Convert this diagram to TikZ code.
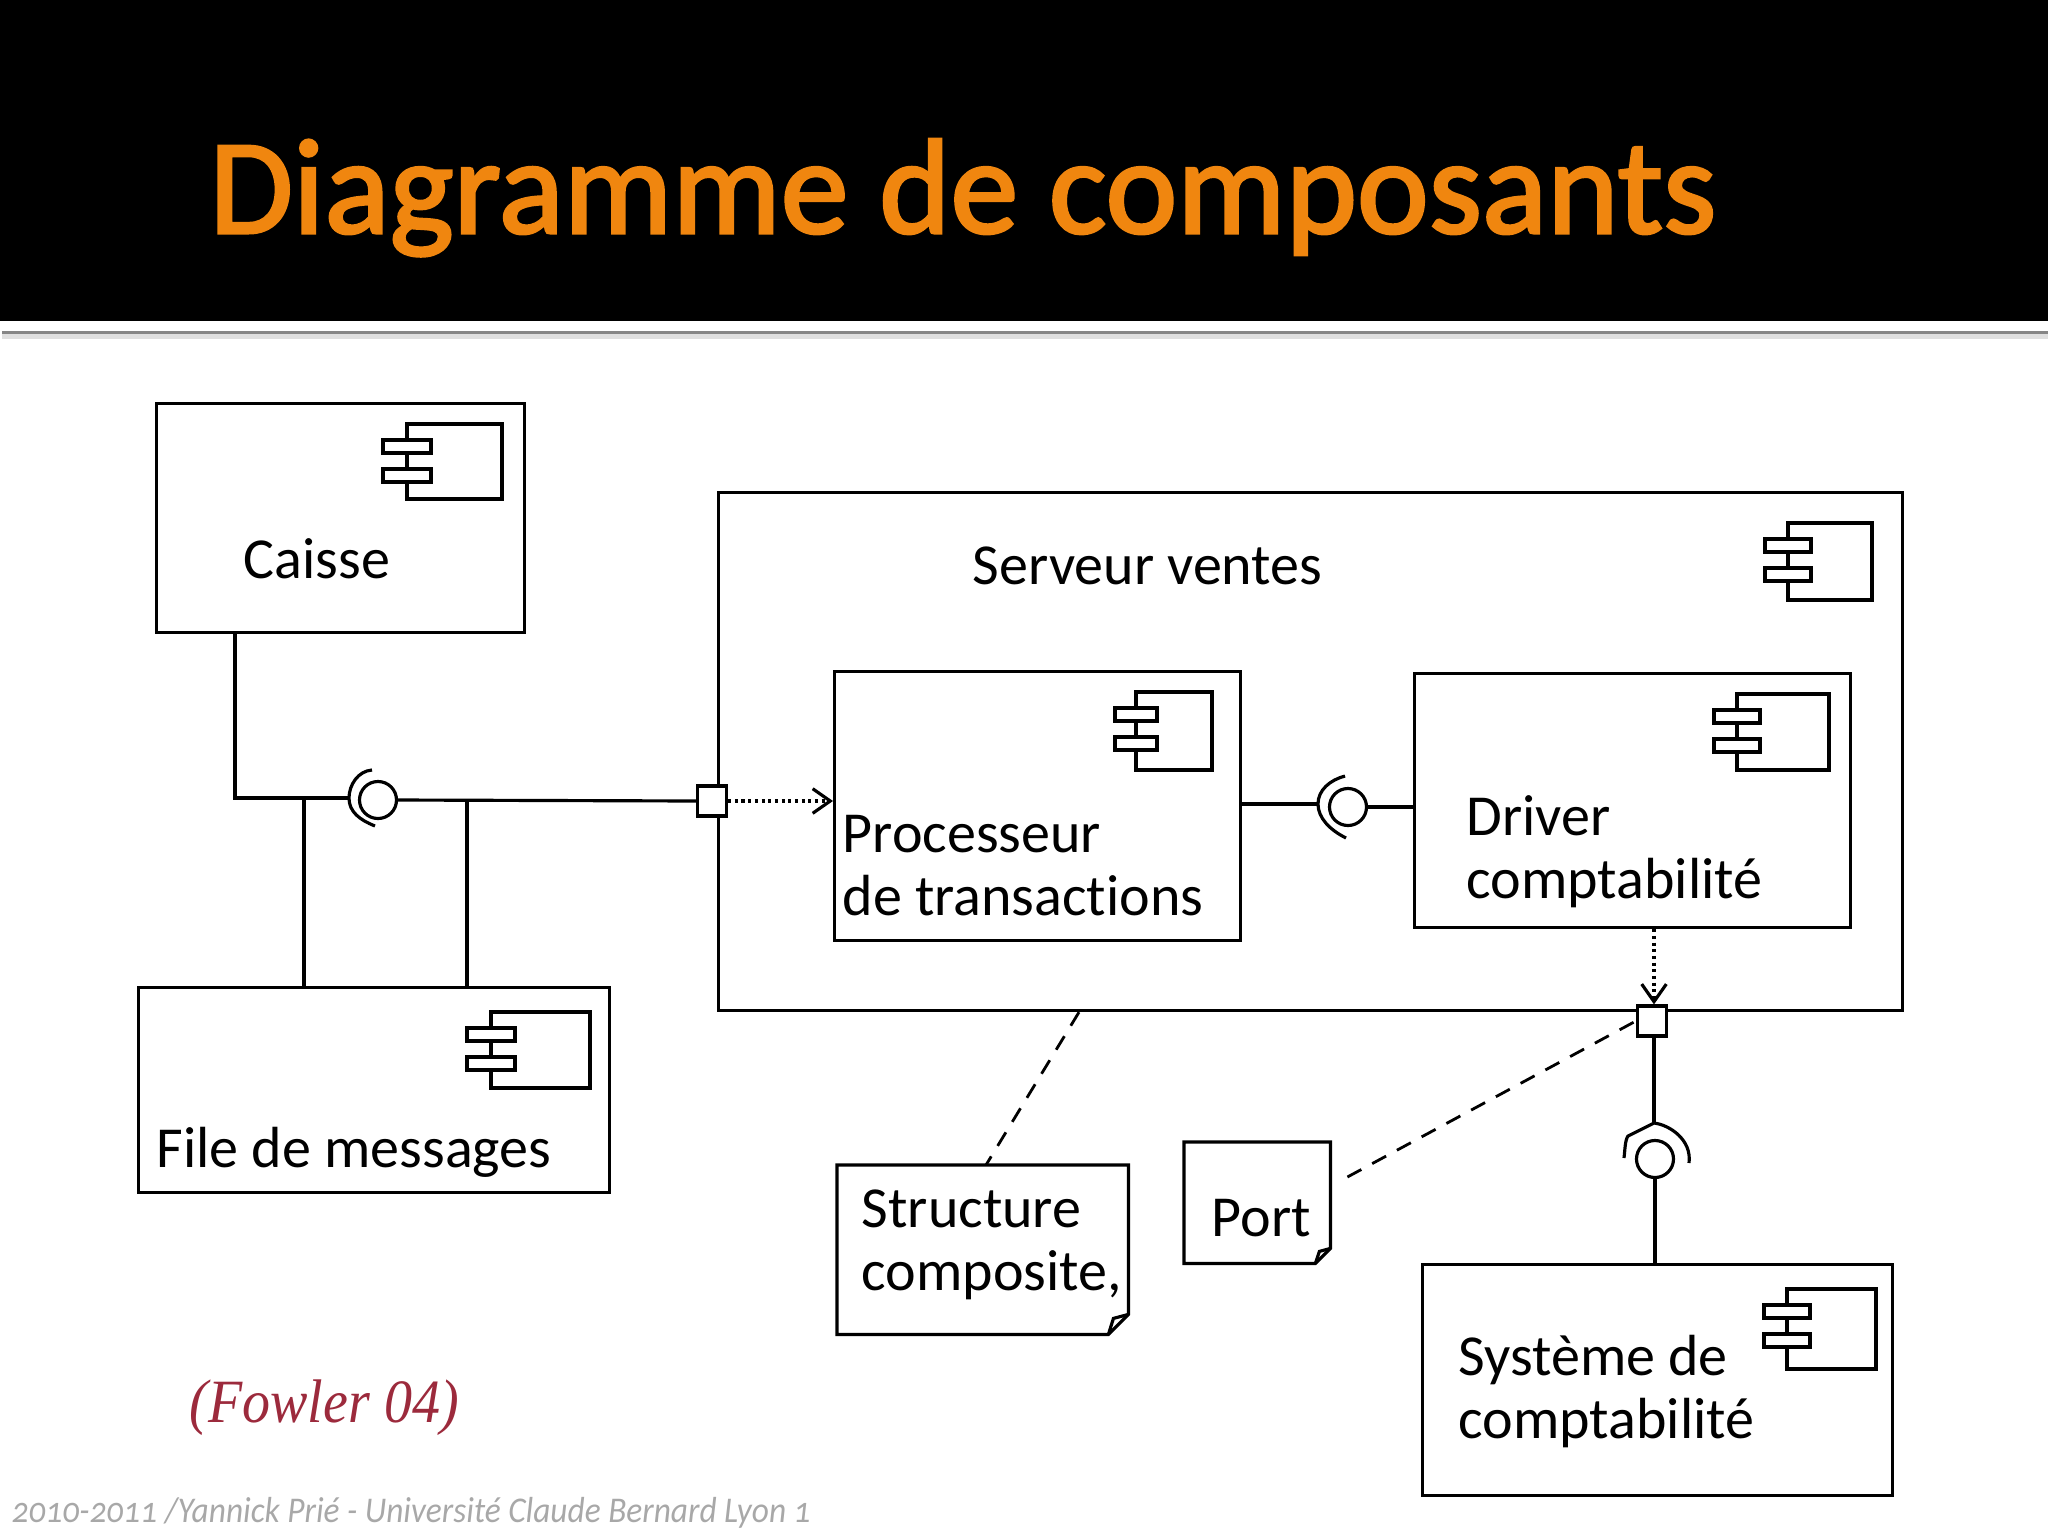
\documentclass[tikz,border=0pt]{standalone}
\usepackage{fontspec}
\setmainfont[Ligatures=CommonOff]{Carlito}
\newfontfamily\titlefont[Ligatures=CommonOff,FakeBold=2.2,LetterSpace=0.25]{Carlito}
\newfontfamily\fowlerfont{Liberation Serif}
\newfontfamily\footerfont[Numbers=OldStyle,Ligatures=CommonOff]{Carlito}
\usetikzlibrary{arrows.meta,calc}
\definecolor{titleorange}{HTML}{F0860F}
\definecolor{fowlerred}{HTML}{9C2A3C}

\begin{document}
\begin{tikzpicture}[x=0.01cm, y=-0.01cm, >={Straight Barb[length=5pt,width=7pt]}]

% styles
\tikzset{
  wire/.style={line width=0.9pt},
  dep/.style={->, line width=0.9pt, densely dotted},
  ref/.style={line width=0.8pt, dash pattern=on 4.5pt off 3.5pt},
  compbox/.style 2 args={draw, line width=0.9pt, fill=white, anchor=north west, inner sep=0pt,
    minimum width=#1*0.01cm, minimum height=#2*0.01cm},
  noteframe/.style 2 args={anchor=north west, inner sep=0pt,
    minimum width=#1*0.01cm, minimum height=#2*0.01cm},
  portbox/.style={draw, line width=0.9pt, fill=white, inner sep=0pt,
    minimum width=0.29cm, minimum height=0.30cm},
  ball/.style={draw, circle, line width=0.9pt, inner sep=0pt, minimum size=0.37cm},
  lbl/.style={anchor=base west, inner sep=0pt, align=left, font=\fontsize{16.5}{17.8}\selectfont},
}

\useasboundingbox (0,0) rectangle (2048,1536);

% title band
\fill[black] (0,0) rectangle (2048,321);
\fill[gray!25] (2,331) rectangle (2048,339);
\fill[gray!95] (2,331) rectangle (2048,334);
\node[anchor=base west, inner sep=0pt, text=titleorange, font=\fontsize{38.5}{40}\titlefont]
  (title) at (209,233) {Diagramme de composants};

% components
\node[compbox={368}{229}] (caisse) at (155,402) {};
\node[compbox={1184}{518}] (serveur) at (717,491) {};
\node[compbox={406}{269}] (processeur) at (833,670) {};
\node[compbox={436}{254}] (driver) at (1413,672) {};
\node[compbox={471}{205}] (messages) at (137,986) {};
\node[compbox={470}{231}] (systeme) at (1421,1263) {};

% component icons: tab left / body left / body right / body top / body bottom
\foreach \xa/\xb/\xc/\ya/\yb in {383/407/502/424/499, 1765/1788/1872/523/600,
    1115/1136/1212/692/770, 1714/1737/1829/694/770,
    467/491/590/1012/1088, 1764/1787/1876/1289/1369} {
  \draw[wire] (\xb,\ya) -- (\xc,\ya) -- (\xc,\yb) -- (\xb,\yb) -- cycle;
  \draw[wire, fill=white] (\xa,\ya+16) rectangle (2*\xb-\xa,\ya+29);
  \draw[wire, fill=white] (\xa,\ya+45) rectangle (2*\xb-\xa,\ya+58);
}

% component labels
\node[lbl] (caisselbl) at (243,578) {Caisse};
\node[lbl] (serveurlbl) at (972,584) {Serveur ventes};
\node[lbl] (processeurlbl) at (842,915) {Processeur\\de transactions};
\node[lbl] (driverlbl) at (1466,898) {Driver\\comptabilité};
\node[lbl] (messageslbl) at (156,1167) {File de messages};
\node[lbl] (systemelbl) at (1458,1438) {Système de\\comptabilité};

% notes
\node[noteframe={290}{168}] (structure) at (837,1165) {};
\draw[wire] (structure.south west) -- (structure.north west) -- (structure.north east)
  -- ($(structure.south east)+(0,-20)$) -- ($(structure.south east)+(-20,0)$) -- cycle;
\draw[wire] ($(structure.south east)+(-20,0)$) -- ($(structure.south east)+(-15,-16)$)
  -- ($(structure.south east)+(0,-20)$);
\node[noteframe={145}{120}] (port) at (1184,1142) {};
\draw[wire] (port.south west) -- (port.north west) -- (port.north east)
  -- ($(port.south east)+(0,-15)$) -- ($(port.south east)+(-15,0)$) -- cycle;
\draw[wire] ($(port.south east)+(-15,0)$) -- ($(port.south east)+(-11,-12)$)
  -- ($(port.south east)+(0,-15)$);
\node[lbl] (structurelbl) at (861,1290) {Structure\\composite,};
\node[lbl] (portlbl) at (1211,1236) {Port};

% ports
\node[portbox] (portleft) at (712,801) {};
\node[portbox] (portbottom) at (1652,1021) {};

% assembly connectors
\node[ball] (ballleft) at (378,800) {};
\node[ball] (ballmid) at (1348,807) {};
\node[ball] (ballbottom) at (1655,1159) {};

\coordinate (sockleft) at (349,798);
\coordinate (sockmid) at (1318,804);
\coordinate (sockbottom) at (1654,1123);

% sockets
\draw[wire] (372,770) .. controls (358,771) and (349,785) .. (sockleft)
  .. controls (349,812) and (360,820) .. (375,826);
\draw[wire] (1345,776) .. controls (1330,780) and (1318,790) .. (sockmid)
  .. controls (1318,818) and (1330,830) .. (1346,838);
\draw[wire] (1624,1158) .. controls (1625,1150) and (1625,1140) .. (1628,1136)
  -- (sockbottom) .. controls (1670,1125) and (1692,1140) .. (1689,1163);

% wires
\draw[wire] ($(caisse.south west)+(80,0)$) |- (sockleft);
\draw[wire] ($(messages.north west)+(167,0)$) -- ++(0,-188);
\draw[wire] (ballleft.east) -- (portleft.west);
\draw[wire] ($(messages.north west)+(330,0)$) -- ++(0,-185);
\draw[wire] (processeur.east |- sockmid) -- (sockmid);
\draw[wire] (ballmid.east) -- (driver.west |- ballmid.east);
\draw[wire] ($(portbottom.south)+(2,0)$) -- (sockbottom);
\draw[wire] (ballbottom.south) -- (systeme.north -| ballbottom.south);

% dependencies
\draw[dep] (portleft.east) -- (processeur.west |- portleft.east);
\draw[dep] ($(driver.south -| portbottom.north)+(2,0)$) -- ($(portbottom.north)+(2,0)$);

% note links
\draw[ref] ($(serveur.south west)+(362,0)$) -- ($(structure.north west)+(149,0)$);
\draw[ref] ($(port.north east)+(17,35)$) -- (portbottom.west);

% captions
\node[anchor=base west, inner sep=0pt, text=fowlerred, font=\fontsize{17.5}{20}\fowlerfont\itshape]
  (fowler) at (189,1422) {\scalebox{0.91}[1]{(Fowler 04)}};
\node[anchor=base west, inner sep=0pt, text=gray!68, font=\fontsize{10.3}{12}\footerfont\itshape]
  (footer) at (11,1522) {\scalebox{0.921}[1]{2010-2011 /Yannick Prié - Université Claude Bernard Lyon 1}};

\end{tikzpicture}
\end{document}
